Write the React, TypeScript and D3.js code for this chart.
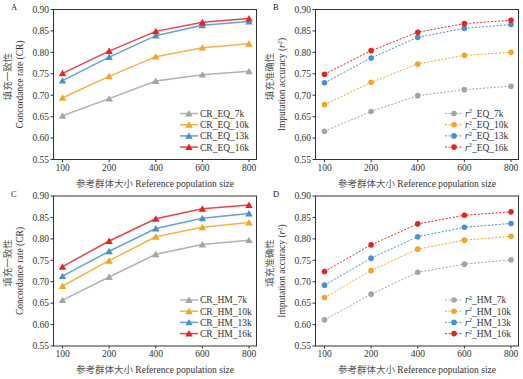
import React from "react";
import * as d3 from "d3";

const xCats = ["100", "200", "400", "600", "800"];
const yTicks = [0.55, 0.6, 0.65, 0.7, 0.75, 0.8, 0.85, 0.9];

const seriesSuffix = ["7k", "10k", "13k", "16k"];
const colors = ["#A5A5A5", "#F7A423", "#4A8ED6", "#E8231E"];

// Panel A: CR EQ
const crEq7k = [0.652, 0.692, 0.733, 0.748, 0.756];
const crEq10k = [0.694, 0.744, 0.790, 0.811, 0.820];
const crEq13k = [0.734, 0.789, 0.839, 0.863, 0.872];
const crEq16k = [0.751, 0.803, 0.849, 0.870, 0.879];
// Panel B: r2 EQ
const r2Eq7k = [0.616, 0.662, 0.699, 0.713, 0.721];
const r2Eq10k = [0.678, 0.730, 0.773, 0.793, 0.800];
const r2Eq13k = [0.729, 0.787, 0.835, 0.856, 0.865];
const r2Eq16k = [0.749, 0.804, 0.847, 0.867, 0.875];
// Panel C: CR HM
const crHm7k = [0.657, 0.711, 0.764, 0.787, 0.797];
const crHm10k = [0.690, 0.749, 0.805, 0.827, 0.838];
const crHm13k = [0.713, 0.771, 0.824, 0.848, 0.859];
const crHm16k = [0.735, 0.795, 0.847, 0.870, 0.879];
// Panel D: r2 HM
const r2Hm7k = [0.611, 0.671, 0.722, 0.741, 0.751];
const r2Hm10k = [0.663, 0.726, 0.776, 0.797, 0.806];
const r2Hm13k = [0.692, 0.755, 0.805, 0.827, 0.836];
const r2Hm16k = [0.724, 0.786, 0.835, 0.855, 0.863];

const FONT = "'Liberation Serif', 'Times New Roman', 'Noto Sans CJK SC', serif";

type Panel = {
  label: string;
  ox: number;
  oy: number;
  kind: "cr" | "r2";
  group: string;
  values: number[][];
};

const panels: Panel[] = [
  { label: "A", ox: 0, oy: 0, kind: "cr", group: "EQ", values: [crEq7k, crEq10k, crEq13k, crEq16k] },
  { label: "B", ox: 262, oy: 0, kind: "r2", group: "EQ", values: [r2Eq7k, r2Eq10k, r2Eq13k, r2Eq16k] },
  { label: "C", ox: 0, oy: 186.5, kind: "cr", group: "HM", values: [crHm7k, crHm10k, crHm13k, crHm16k] },
  { label: "D", ox: 262, oy: 186.5, kind: "r2", group: "HM", values: [r2Hm7k, r2Hm10k, r2Hm13k, r2Hm16k] },
];

const L = 53.5, R = 256.5, T = 9.5, B = 159.5;

function PanelView({ p }: { p: Panel }) {
  const x = d3.scalePoint<string>().domain(xCats).range([L + 9, R - 7.5]);
  const y = d3.scaleLinear().domain([0.55, 0.9]).range([B, T]);
  const line = d3
    .line<number>()
    .x((_, i) => x(xCats[i]) as number)
    .y((d) => y(d));
  const tri = d3.symbol(d3.symbolTriangle, 24)() as string;
  const isCr = p.kind === "cr";
  const legendX = isCr ? 180 : 183;
  const legendY0 = 113.5;
  const legendStep = 11.2;
  const drawMarker = (i: number, cx: number, cy: number, k: string) =>
    isCr ? (
      <path key={k} d={tri} transform={`translate(${cx},${cy + 0.8})`} fill={colors[i]} />
    ) : (
      <circle key={k} cx={cx} cy={cy} r={2.8} fill={colors[i]} />
    );
  return (
    <g transform={`translate(${p.ox},${p.oy})`} fontFamily={FONT}>
      <text x={11} y={10} fontSize={8.5} fill="#222">{p.label}</text>
      {/* frame */}
      <rect x={L} y={T} width={R - L} height={B - T} fill="none" stroke="#333" strokeWidth={1} />
      {/* y ticks */}
      {yTicks.map((t) => (
        <g key={t}>
          <line x1={L - 3} x2={L} y1={y(t)} y2={y(t)} stroke="#333" />
          <text x={L - 4.5} y={y(t) + 3.3} fontSize={9.5} textAnchor="end" fill="#333">
            {d3.format(".2f")(t)}
          </text>
        </g>
      ))}
      {/* x ticks */}
      {xCats.map((c) => (
        <g key={c}>
          <line x1={x(c)} x2={x(c)} y1={B} y2={B + 2.5} stroke="#333" />
          <text x={x(c)} y={B + 11} fontSize={9.5} textAnchor="middle" fill="#333">{c}</text>
        </g>
      ))}
      {/* axis titles */}
      <text x={(L + R) / 2} y={B + 27} fontSize={9.5} textAnchor="middle" fill="#333">
        <tspan fill="#555">参考群体大小</tspan> Reference population size
      </text>
      <text transform={`translate(11,${(T + B) / 2 - 8}) rotate(-90)`} fontSize={9.5} textAnchor="middle" fill="#555">
        {isCr ? "填充一致性" : "填充准确性"}
      </text>
      <text transform={`translate(23,${(T + B) / 2}) rotate(-90)`} fontSize={9.5} textAnchor="middle" fill="#333">
        {isCr ? (
          "Concordance rate (CR)"
        ) : (
          <>
            Imputation accuracy (<tspan fontStyle="italic">r</tspan>
            <tspan fontSize={6.5} dy={-3.5}>2</tspan>
            <tspan dy={3.5}>)</tspan>
          </>
        )}
      </text>
      {/* series */}
      {p.values.map((vals, i) => (
        <g key={i}>
          <path
            d={line(vals) as string}
            fill="none"
            stroke={colors[i]}
            strokeWidth={isCr ? 1.5 : 1}
            strokeOpacity={isCr ? 0.85 : 1}
            strokeDasharray={isCr ? undefined : "2,1.6"}
          />
          {vals.map((v, j) => drawMarker(i, x(xCats[j]) as number, y(v), `m${j}`))}
        </g>
      ))}
      {/* legend */}
      {seriesSuffix.map((s, i) => {
        const ly = legendY0 + i * legendStep;
        return (
          <g key={s}>
            <line
              x1={legendX}
              x2={legendX + 18}
              y1={ly}
              y2={ly}
              stroke={colors[i]}
              strokeWidth={isCr ? 1.5 : 1}
              strokeOpacity={isCr ? 0.85 : 1}
              strokeDasharray={isCr ? undefined : "2,1.6"}
            />
            {drawMarker(i, legendX + 9, ly, "lm")}
            <text x={legendX + 20} y={ly + 3.4} fontSize={9.5} fill="#333">
              {isCr ? (
                `CR_${p.group}_${s}`
              ) : (
                <>
                  <tspan fontStyle="italic">r</tspan>
                  <tspan fontSize={6.5} dy={-3.5}>2</tspan>
                  <tspan dy={3.5}>{`_${p.group}_${s}`}</tspan>
                </>
              )}
            </text>
          </g>
        );
      })}
    </g>
  );
}

export default function App() {
  return (
    <svg
      width={523}
      height={379}
      style={{ position: "absolute", left: 0, top: 0, background: "#fff" }}
    >
      <rect width={523} height={379} fill="#fff" />
      {panels.map((p) => (
        <PanelView key={p.label} p={p} />
      ))}
    </svg>
  );
}
